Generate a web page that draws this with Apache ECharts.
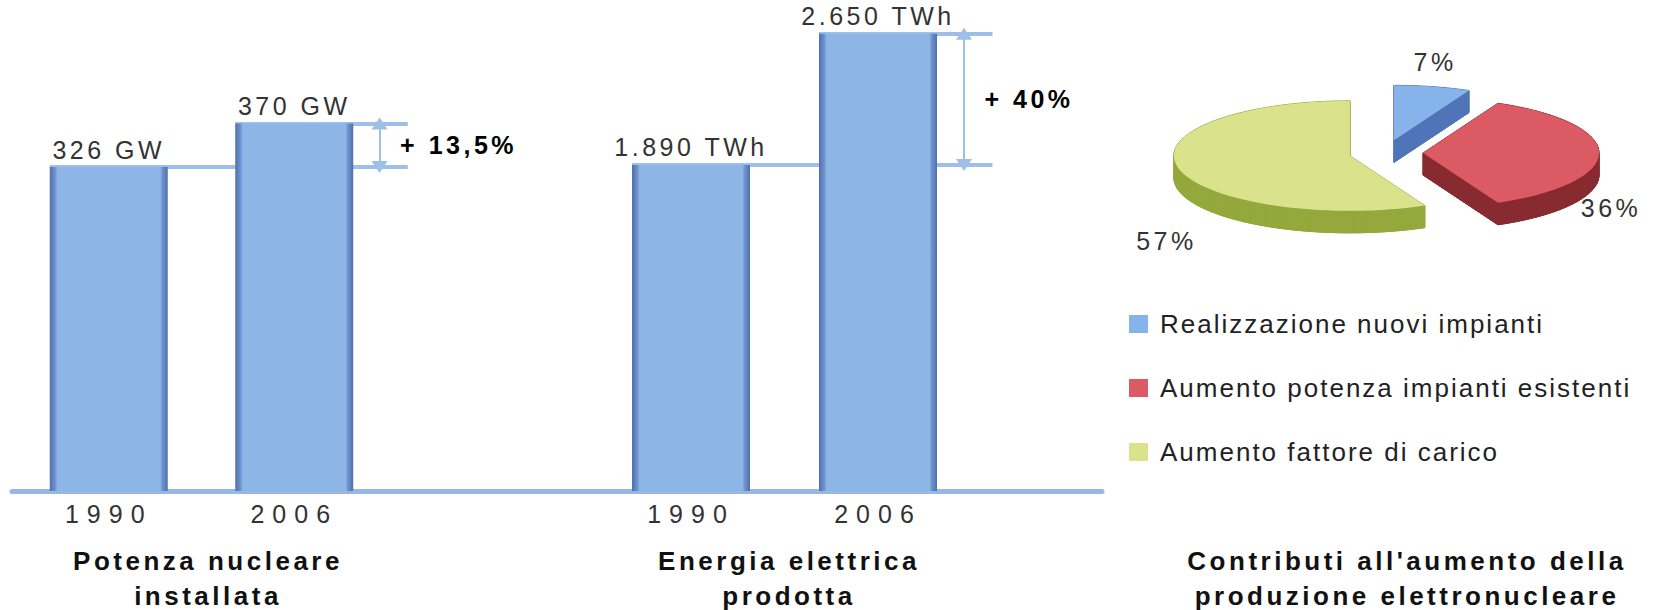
<!DOCTYPE html>
<html>
<head>
<meta charset="utf-8">
<script src="https://cdn.jsdelivr.net/npm/echarts@6/dist/echarts.min.js"></script>
<style>
  html, body { margin: 0; padding: 0; background: #fff; }
  #chart { width: 1678px; height: 610px; }
  /* letter tracking per font family used in the chart */
  #chart text[style*="Liberation Sans"] { letter-spacing: 2px; }
  #chart text[style*="Arial"] { letter-spacing: 3.5px; }
  #chart text[style*="Helvetica"] { letter-spacing: 8px; }
</style>
</head>
<body>
<div id="chart"></div>
<script>
// ---- data ----
const years = ['1990', '2006'];
const capacityGW = [326, 370];
const energyTWh = [1890, 2650];
const shareNames = ['Realizzazione nuovi impianti', 'Aumento potenza impianti esistenti', 'Aumento fattore di carico'];
const shareValues = [7, 36, 57];
const panelTitles = ['Potenza nucleare\ninstallata', 'Energia elettrica\nprodotta', "Contributi all'aumento della\nproduzione elettronucleare"];

// ---- styling ----
const fontSpaced = "Arial, 'Liberation Sans', sans-serif";
const fontYears = "Helvetica, Arial, 'Liberation Sans', sans-serif";
const fontPlain = "'Liberation Sans', sans-serif";
const barLight = '#8db6e6';
const barEdge = '#4f70b0';
const guideColor = '#9dbfea';
const baseColor = '#98b6e6';
const shareTop = ['#86b4ea', '#dc5a64', '#dbe28c'];
const shareSide = ['#4f74b8', '#872b31', '#94a83c'];

// ---- layout ----
const plotTop = 30, plotBottom = 119;
const panelLeft = [16, 597.5];     // left edge of each bar panel
const catWidth = [185.5, 187];     // width of one category slot in each panel
const capMax = 464, energyMax = 2672;
const barWidth = 118;
const guideSpan = 2.5;             // guide grids cover categories -0.5 .. 2.0
const guideEnd = 1.612;            // right end of the reference lines, category units
const arrowX = 1.46;               // x of the double arrow, category units
const titleCenters = [208, 789, 1407];
const pieCx = 1386, pieCy = 153, pieRx = 176, pieRy = 55, pieDepth = 22;
const explode = [37, 13];
const labelRing = [225, 150, 55];

function itNumber(v) {
  return String(v).replace(/\B(?=(\d{3})+(?!\d))/g, '.');
}
function growthText(a, b) {
  const p = Math.round((b - a) / a * 100 * 2) / 2;
  return '+ ' + String(p).replace('.', ',') + '%';
}

const barFill = {
  type: 'linear', x: 0, y: 0, x2: 1, y2: 0,
  colorStops: [
    { offset: 0, color: barEdge }, { offset: 0.045, color: '#6f92cc' },
    { offset: 0.065, color: barLight }, { offset: 0.935, color: barLight },
    { offset: 0.955, color: '#6f92cc' }, { offset: 1, color: barEdge }
  ]
};

function barSeries(values, unit, axisIndex) {
  return {
    type: 'bar', xAxisIndex: axisIndex, yAxisIndex: axisIndex, data: values, barWidth, z: 2,
    itemStyle: { color: barFill },
    label: {
      show: true, position: 'top', distance: 5,
      formatter: p => itNumber(p.value) + ' ' + unit,
      fontSize: 25, color: '#333', fontFamily: fontSpaced
    }
  };
}

// reference lines at both bar heights, the double arrow between them and the growth label
function guideSeries(values, axisIndex, panel) {
  const a = values[0], b = values[1];
  const barHalf = barWidth / 2 / catWidth[panel];
  const ls = { color: guideColor, width: 4, type: 'solid' };
  const arrowLs = { color: guideColor, width: 2, type: 'solid' };
  return {
    type: 'line', xAxisIndex: axisIndex, yAxisIndex: axisIndex, z: 1, silent: true, clip: false,
    data: [[arrowX, (a + b) / 2]], symbol: 'none', lineStyle: { width: 0 },
    markLine: {
      silent: true, z: 1, animation: false,
      label: { show: false },
      symbolSize: [16, 12],
      data: [
        [{ coord: [-barHalf, a], symbol: 'none', lineStyle: ls }, { coord: [guideEnd, a], symbol: 'none' }],
        [{ coord: [1 - barHalf, b], symbol: 'none', lineStyle: ls }, { coord: [guideEnd, b], symbol: 'none' }],
        [{ coord: [arrowX, b], symbol: 'triangle', lineStyle: arrowLs }, { coord: [arrowX, a], symbol: 'triangle' }]
      ]
    },
    markPoint: {
      silent: true, symbol: 'circle', symbolSize: 1, animation: false,
      itemStyle: { color: 'transparent' },
      data: [{ coord: [arrowX, (a + b) / 2] }],
      label: {
        show: true, position: 'right', distance: 20, formatter: growthText(a, b),
        color: '#000', fontWeight: 'bold', fontSize: 25, fontFamily: fontSpaced
      }
    }
  };
}

// ---- 3D exploded pie as extruded elliptical slices ----
const shareTotal = shareValues.reduce((s, v) => s + v, 0);
const startAngles = [];
shareValues.reduce((acc, v) => { startAngles.push(acc); return acc - v / shareTotal * 360; }, 90);

function renderSlice(i, value) {
  const a0 = startAngles[i];
  const sweep = value / shareTotal * 360;
  const mid = (a0 - sweep / 2) * Math.PI / 180;
  const vx = pieCx + explode[0] * Math.cos(mid);
  const vy = pieCy - explode[1] * Math.sin(mid);
  const top = [[vx, vy]];
  const steps = Math.max(3, Math.ceil(sweep / 3));
  for (let k = 0; k <= steps; k++) {
    const t = (a0 - sweep * k / steps) * Math.PI / 180;
    top.push([vx + pieRx * Math.cos(t), vy - pieRy * Math.sin(t)]);
  }
  const shade = { fill: shareSide[i], stroke: shareSide[i], lineWidth: 1 };
  const down = p => [p[0], p[1] + pieDepth];
  const children = [{ type: 'polygon', z2: 0, shape: { points: top.map(down) }, style: shade }];
  for (let k = 0; k < top.length; k++) {
    const p = top[k], q = top[(k + 1) % top.length];
    children.push({ type: 'polygon', z2: 0, shape: { points: [p, q, down(q), down(p)] }, style: shade });
  }
  children.push({ type: 'polygon', z2: 1, shape: { points: top }, style: { fill: shareTop[i] } });
  children.push({
    type: 'text', z2: 2,
    x: pieCx + labelRing[0] * Math.cos(mid),
    y: pieCy - labelRing[1] * Math.sin(mid) + labelRing[2],
    style: {
      text: value + '%', align: 'center', verticalAlign: 'middle',
      fontSize: 25, fontFamily: fontSpaced, fill: '#333'
    }
  });
  return { type: 'group', children };
}

function sliceSeries(i) {
  return {
    type: 'custom', name: shareNames[i], coordinateSystem: 'none', silent: true,
    itemStyle: { color: shareTop[i] },
    data: [shareValues[i]],
    renderItem: (params, api) => renderSlice(i, api.value(0))
  };
}

const catAxis = gridIndex => ({
  type: 'category', gridIndex, data: years,
  axisLine: { show: false }, axisTick: { show: false }, splitLine: { show: false },
  axisLabel: { margin: 10, fontSize: 25, color: '#333', fontFamily: fontYears }
});
const guideX = gridIndex => ({ type: 'value', gridIndex, min: -0.5, max: guideSpan - 0.5, show: false });
const hiddenY = (gridIndex, max) => ({ type: 'value', gridIndex, min: 0, max, show: false });

const option = {
  animation: false,
  backgroundColor: '#fff',
  grid: [
    { left: panelLeft[0], width: catWidth[0] * 2, top: plotTop, bottom: plotBottom },
    { left: panelLeft[1], width: catWidth[1] * 2, top: plotTop, bottom: plotBottom },
    { left: panelLeft[0], width: catWidth[0] * guideSpan, top: plotTop, bottom: plotBottom },
    { left: panelLeft[1], width: catWidth[1] * guideSpan, top: plotTop, bottom: plotBottom },
    { left: 12, width: 1090, top: plotTop, bottom: plotBottom }
  ],
  xAxis: [
    catAxis(0), catAxis(1), guideX(2), guideX(3),
    {
      type: 'value', gridIndex: 4, min: 0, max: 1,
      axisLine: { show: true, onZero: false, lineStyle: { color: baseColor, width: 5 } },
      axisTick: { show: false }, axisLabel: { show: false }, splitLine: { show: false }
    }
  ],
  yAxis: [
    hiddenY(0, capMax), hiddenY(1, energyMax), hiddenY(2, capMax), hiddenY(3, energyMax), hiddenY(4, 1)
  ],
  legend: {
    orient: 'vertical', left: 1124, top: 306,
    itemWidth: 19, itemHeight: 18, itemGap: 38, icon: 'rect', selectedMode: false,
    textStyle: { fontSize: 26, color: '#222', fontFamily: fontPlain, padding: [0, 0, 0, 7] },
    data: shareNames
  },
  graphic: panelTitles.map((t, i) => ({
    type: 'text', x: titleCenters[i], y: 578, silent: true,
    style: {
      text: t, align: 'center', verticalAlign: 'middle', lineHeight: 35,
      fontSize: 26, fontWeight: 'bold', fontFamily: fontSpaced, fill: '#111'
    }
  })),
  series: [
    barSeries(capacityGW, 'GW', 0),
    barSeries(energyTWh, 'TWh', 1),
    guideSeries(capacityGW, 2, 0),
    guideSeries(energyTWh, 3, 1),
    sliceSeries(0), sliceSeries(1), sliceSeries(2)
  ]
};

const chart = echarts.init(document.getElementById('chart'), null, { renderer: 'svg' });
chart.setOption(option);
</script>
</body>
</html>
